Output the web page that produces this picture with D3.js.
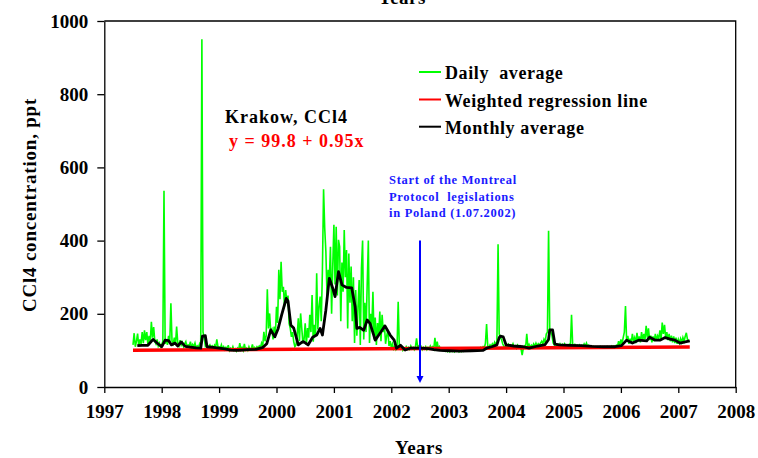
<!DOCTYPE html>
<html>
<head>
<meta charset="utf-8">
<script src="https://cdn.jsdelivr.net/npm/d3@7"></script>
<style>
  html, body { margin: 0; padding: 0; background: #fff; }
  svg { display: block; }
  text { font-family: "Liberation Serif", "Times New Roman", serif; font-weight: bold; }
</style>
</head>
<body>
<svg id="chart" width="758" height="458"></svg>
<script>
// ---- data -------------------------------------------------------------
// Daily CCl4 concentration (ppt), sampled about weekly, starting mid-1997
const dailyStart = 1997.5;
const dailyStep = 0.02;
const dailyValues = [
  // 1997.50 - 1997.98
  115,147,110,125,146,112,130,118,150,120,155,128,150,115,140,122,178,135,164,125,118,130,112,120,110,
  // 1998.00 - 1998.98
  115,125,536,118,130,115,140,120,229,125,118,135,115,165,120,112,128,115,122,110,
  118,124,108,115,112,124,108,116,110,120,106,112,108,118,110,950,150,135,112,118,
  106,110,115,108,112,106,114,108,130,110,
  // 1999.00 - 1999.98
  110,105,115,104,110,102,108,103,114,100,106,102,110,100,104,98,106,101,120,102,
  108,100,118,102,106,100,110,102,104,116,103,108,104,110,106,112,108,120,112,151,
  125,140,267,160,201,150,157,130,165,
  // 2000.00 - 2000.98
  140,219,175,320,240,342,260,274,220,265,229,250,174,160,137,150,124,110,115,140,
  188,125,201,161,120,130,174,115,161,135,197,150,251,124,170,140,311,157,219,247,
  180,320,540,434,370,250,320,292,383,200,
  // 2001.00 - 2001.98
  330,443,280,438,250,402,383,180,340,260,429,300,374,160,365,230,329,180,300,120,
  265,140,219,292,115,324,400,130,230,150,280,400,120,200,160,260,130,190,115,175,
  140,206,125,197,150,170,118,140,156,112,
  // 2002.00 - 2002.98
  125,108,118,104,110,102,108,233,110,104,108,100,106,102,110,104,108,103,112,104,
  108,102,110,133,108,112,104,110,102,108,104,110,102,108,104,112,106,110,104,134,
  106,124,104,110,102,106,100,104,98,102,
  // 2003.00 - 2003.98
  97,102,96,100,97,102,96,100,98,102,96,100,97,101,98,103,99,102,100,104,
  99,103,100,105,101,104,102,106,103,108,104,110,106,120,172,112,108,115,110,118,
  112,122,115,125,390,145,135,130,118,112,
  // 2004.00 - 2004.98
  108,114,110,116,108,114,110,118,108,112,106,114,108,112,104,87,106,112,108,145,
  110,116,108,114,110,118,112,120,112,118,114,120,125,118,130,122,145,150,427,160,
  150,140,120,115,118,112,116,110,118,112,
  // 2005.00 - 2005.98
  116,110,118,112,115,110,116,112,197,115,110,116,112,114,110,115,111,114,110,118,
  112,120,110,114,110,112,108,111,108,110,107,110,108,111,108,110,107,110,108,111,
  108,110,108,112,109,112,110,114,110,125,
  // 2006.00 - 2006.98
  112,130,118,135,150,221,125,140,118,132,120,145,125,135,120,148,126,138,122,150,
  128,145,130,167,135,160,128,140,122,138,125,145,128,140,132,155,130,176,145,170,
  135,150,128,145,125,140,122,138,120,135,
  // 2007.00 - 2007.20
  118,130,120,132,122,135,125,138,148,130,128
];

// Running monthly average (ppt) at the given decimal years
const monthlyYears = [
  1997.575,1997.66,1997.76,1997.85,1997.92,1998.00,1998.06,1998.12,1998.17,1998.23,
  1998.28,1998.34,1998.41,1998.50,1998.60,1998.68,1998.71,1998.76,1998.79,1998.90,
  1999.00,1999.10,1999.20,1999.30,1999.40,1999.50,1999.64,1999.72,1999.77,1999.83,
  1999.90,1999.97,2000.03,2000.09,2000.17,2000.20,2000.25,2000.30,2000.38,2000.44,
  2000.47,2000.55,2000.63,2000.70,2000.76,2000.80,2000.86,2000.92,2000.98,2001.02,
  2001.08,2001.14,2001.22,2001.31,2001.37,2001.40,2001.45,2001.52,2001.58,2001.63,
  2001.72,2001.80,2001.89,2001.98,2002.05,2002.09,2002.16,2002.24,2002.33,2002.50,
  2002.65,2002.74,2002.85,2003.00,2003.20,2003.40,2003.60,2003.66,2003.75,2003.84,
  2003.88,2003.90,2003.95,2004.00,2004.13,2004.30,2004.40,2004.55,2004.68,2004.74,
  2004.76,2004.81,2004.85,2004.93,2005.10,2005.30,2005.50,2005.70,2005.90,2006.01,
  2006.10,2006.20,2006.31,2006.45,2006.50,2006.60,2006.68,2006.77,2006.86,2006.94,
  2007.03,2007.12,2007.20
];
const monthlyValues = [
  113,114,114,130,120,110,128,127,115,120,
  112,123,111,109,107,106,139,140,110,108,
  106,104,101,100,101,102,103,106,109,118,
  156,137,160,197,242,235,169,161,115,122,
  124,115,136,142,160,142,210,297,270,247,
  315,279,272,271,219,160,163,155,183,174,
  128,146,167,142,128,106,114,101,106,106,
  105,102,100,99,98,99,100,106,110,115,
  135,139,137,115,112,110,106,112,116,130,
  156,156,117,115,114,113,111,110,110,113,
  128,120,128,126,136,128,128,135,131,128,
  120,123,126
];

// Weighted regression line y = 99.8 + 0.95x, x in years since 1997
const regIntercept = 99.8;
const regSlope = 0.95;
const regYears = [1997.5, 2007.2];

// Axis ticks
const xTicks = [1997,1998,1999,2000,2001,2002,2003,2004,2005,2006,2007,2008];
const yTicks = [0,200,400,600,800,1000];

// Legislation date marker
const legislationYear = 2002.5;
const markerTop = 400;

// ---- drawing ----------------------------------------------------------
const svg = d3.select("#chart");
const plotLeft = 104.3, plotRight = 735.7, plotTop = 21, plotBottom = 387;

const x = d3.scaleLinear().domain([1997, 2008]).range([plotLeft, plotRight]);
const y = d3.scaleLinear().domain([0, 1000]).range([plotBottom, plotTop]);

// frame: top and right edges
svg.append("path")
  .attr("d", `M${plotLeft},${plotTop}H${plotRight}V${plotBottom}`)
  .attr("fill", "none").attr("stroke", "#000").attr("stroke-width", 1.3);

// axes
const yAxis = svg.append("g")
  .attr("transform", `translate(${plotLeft},0)`)
  .call(d3.axisLeft(y).tickValues(yTicks).tickFormat(d3.format("d")).tickSize(7).tickPadding(9).tickSizeOuter(0));
const xAxis = svg.append("g")
  .attr("transform", `translate(0,${plotBottom})`)
  .call(d3.axisBottom(x).tickValues(xTicks).tickFormat(d3.format("d")).tickSize(6).tickPadding(12).tickSizeOuter(0));
[yAxis, xAxis].forEach(g => {
  g.selectAll("path.domain").attr("stroke", "#000").attr("stroke-width", 1.3);
  g.selectAll(".tick line").attr("stroke", "#000").attr("stroke-width", 1.3);
  g.selectAll(".tick text")
    .attr("font-family", "Liberation Serif, serif")
    .attr("font-weight", "bold")
    .attr("font-size", 19)
    .attr("fill", "#000");
});

// axis titles (the upper one sits partly above the page edge)
svg.append("text")
  .attr("x", 419).attr("y", 454)
  .attr("text-anchor", "middle").attr("font-size", 19).attr("letter-spacing", 0.5)
  .text("Years");
svg.append("text")
  .attr("x", 402).attr("y", 4)
  .attr("text-anchor", "middle").attr("font-size", 19).attr("letter-spacing", 0.5)
  .text("Years");
svg.append("text")
  .attr("transform", "translate(36,205) rotate(-90)")
  .attr("text-anchor", "middle").attr("font-size", 19).attr("letter-spacing", 0.8)
  .text("CCl4 concentration, ppt");

// series
const daily = dailyValues.map((v, i) => [dailyStart + i * dailyStep, v]);
const line = d3.line().x(d => x(d[0])).y(d => y(d[1]));

svg.append("path")
  .datum(daily)
  .attr("d", line)
  .attr("fill", "none").attr("stroke", "#00ff00").attr("stroke-width", 1.6)
  .attr("stroke-linejoin", "miter");

svg.append("path")
  .datum(regYears.map(t => [t, regIntercept + regSlope * (t - 1997)]))
  .attr("d", line)
  .attr("fill", "none").attr("stroke", "#ff0000").attr("stroke-width", 3.5);

svg.append("path")
  .datum(monthlyYears.map((t, i) => [t, monthlyValues[i]]))
  .attr("d", line)
  .attr("fill", "none").attr("stroke", "#000").attr("stroke-width", 2.8)
  .attr("stroke-linejoin", "round");

// legislation marker arrow
const ax = x(legislationYear);
svg.append("line")
  .attr("x1", ax).attr("x2", ax)
  .attr("y1", y(markerTop)).attr("y2", plotBottom - 9)
  .attr("stroke", "#0000ff").attr("stroke-width", 2);
svg.append("path")
  .attr("d", `M${ax - 3.5},${plotBottom - 11}L${ax + 3.5},${plotBottom - 11}L${ax},${plotBottom - 4}Z`)
  .attr("fill", "#0000ff");

const note = svg.append("text")
  .attr("font-size", 12.5).attr("fill", "#1a1aff").attr("letter-spacing", 0.7);
[["Start of the Montreal", 184], ["Protocol  legislations", 200.5], ["in Poland (1.07.2002)", 217]]
  .forEach(([t, yy]) => note.append("tspan").attr("x", 389).attr("y", yy).attr("xml:space", "preserve").text(t));

// site label and regression formula
svg.append("text")
  .attr("x", 225).attr("y", 122.7)
  .attr("font-size", 18).attr("letter-spacing", 1)
  .text("Krakow, CCl4");
svg.append("text")
  .attr("x", 229).attr("y", 147)
  .attr("font-size", 18).attr("letter-spacing", 1).attr("fill", "#ff0000")
  .text(`y = ${regIntercept} + ${regSlope}x`);

// legend
const legend = [
  { label: "Daily  average", color: "#00ff00", y: 72 },
  { label: "Weighted regression line", color: "#ff0000", y: 99.5 },
  { label: "Monthly average", color: "#000", y: 126.7 }
];
const lg = svg.append("g");
legend.forEach(d => {
  lg.append("line")
    .attr("x1", 419).attr("x2", 441).attr("y1", d.y).attr("y2", d.y)
    .attr("stroke", d.color).attr("stroke-width", 2);
  lg.append("text")
    .attr("x", 445).attr("y", d.y + 7)
    .attr("font-size", 18).attr("letter-spacing", 0.6)
    .attr("xml:space", "preserve")
    .text(d.label);
});
</script>
</body>
</html>
